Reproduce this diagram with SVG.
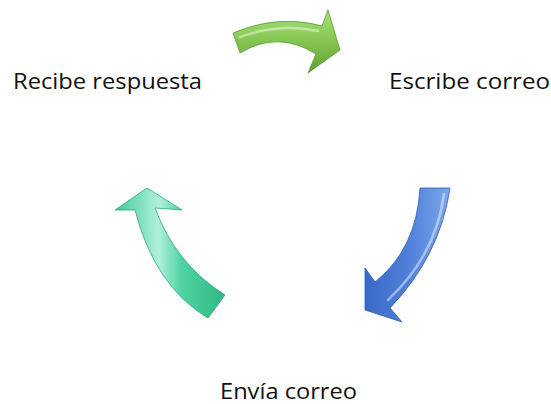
<svg xmlns="http://www.w3.org/2000/svg" width="551" height="404" viewBox="0 0 551 404">
<defs>
<linearGradient id="gG" x1="0" y1="0" x2="0" y2="1">
<stop offset="0" stop-color="#a8dc7e"/><stop offset="0.35" stop-color="#8fd05c"/><stop offset="1" stop-color="#5f9f30"/>
</linearGradient>
<linearGradient id="gB" x1="0" y1="0" x2="1" y2="0">
<stop offset="0" stop-color="#3a68c8"/><stop offset="0.5" stop-color="#4f80d8"/><stop offset="1" stop-color="#7ca6ec"/>
</linearGradient>
<linearGradient id="gT" x1="0" y1="0" x2="1" y2="0">
<stop offset="0" stop-color="#3fcb98"/><stop offset="0.4" stop-color="#b0f0d8"/><stop offset="0.6" stop-color="#50d3a3"/><stop offset="1" stop-color="#2fb884"/>
</linearGradient>
<style>
.lbl{font-family:"Open Sans","Liberation Sans",Arial,sans-serif;font-size:21px;font-weight:400;fill:#111}
.hl{fill:none;stroke:#fff;stroke-opacity:0.45;stroke-width:2.5;stroke-linecap:round}
</style>
</defs>
<g id="connectors">
<g id="arrow-green">
<path d="M233,33 Q278,14 322,26 L328,10 L340,50 L308,73 L316,54 Q278,30 240,53 Z" fill="url(#gG)" stroke="#5a9a2c" stroke-width="0.8"/>
<path class="hl" d="M240,37 Q279,23 318,31"/>
</g>
<g id="arrow-blue">
<path d="M420,188 L450,188 Q440,256 390,308 L402,322 L365,310 L365,268 L375,282 Q416.5,249 420,188 Z" fill="url(#gB)" stroke="#2f5cb4" stroke-width="0.8"/>
<path class="hl" d="M444,194 Q436,255 388,300"/>
</g>
<g id="arrow-teal">
<path d="M147,188 L182,210 L155,208 Q176,264.5 225,295 L208,318 Q154.5,286 135,210 L115,210 Z" fill="url(#gT)" stroke="#2aa878" stroke-width="0.8"/>
</g>
</g>
<g id="node-recibe"><text class="lbl" x="13" y="89" textLength="189" lengthAdjust="spacingAndGlyphs">Recibe respuesta</text></g>
<g id="node-escribe"><text class="lbl" x="389" y="89" textLength="161" lengthAdjust="spacingAndGlyphs">Escribe correo</text></g>
<g id="node-envia"><text class="lbl" x="220" y="399" textLength="137" lengthAdjust="spacingAndGlyphs">Envía correo</text></g>
</svg>
